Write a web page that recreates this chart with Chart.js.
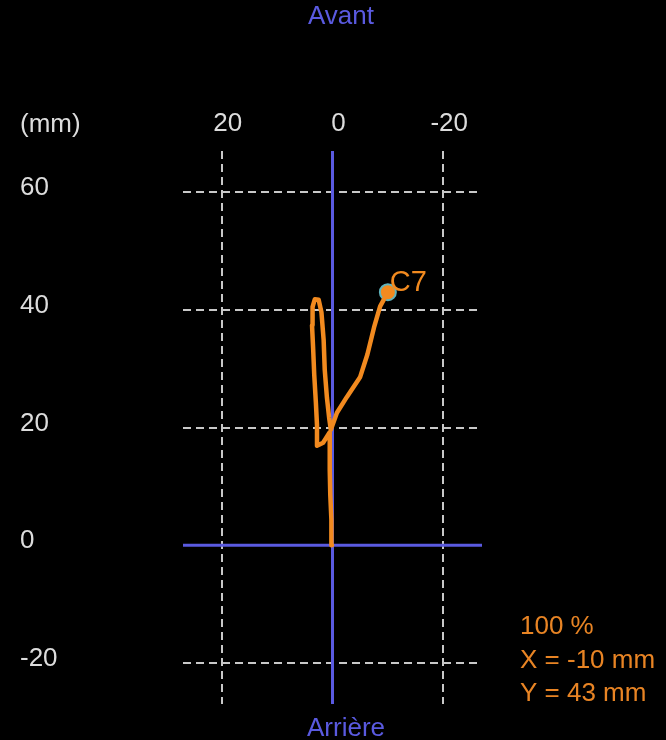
<!DOCTYPE html>
<html>
<head>
<meta charset="utf-8">
<title>Trajectoire C7</title>
<script src="https://cdn.jsdelivr.net/npm/chart.js@4/dist/chart.umd.min.js"></script>
<style>
  html, body { margin: 0; padding: 0; background: #000; }
  canvas { display: block; }
</style>
</head>
<body>
<canvas id="chart" width="666" height="740"></canvas>
<script>
// Trajectory of the C7 marker in the horizontal plane (mm)
const pathX = [0.1, 0.2, 0.4, 0.5, 0.5, 0.5, 1.7, 2.8, 2.8, 3.0, 3.3, 3.5, 3.7, 3.6, 3.2, 2.5, 2.0, 1.6, 1.4, 1.0, 0.6, 0.3, -0.8, -2.6, -5.0, -6.3, -7.5, -8.6, -10];
const pathY = [0.0, 4.3, 8.5, 12.8, 16.2, 19.2, 17.4, 16.9, 20.4, 24.2, 29.0, 33.5, 37.4, 40.5, 41.8, 41.7, 39.6, 34.9, 29.8, 25.0, 21.6, 19.6, 22.5, 25.2, 28.6, 32.4, 37.0, 40.6, 43];

// Current position of the marker
const markerName = 'C7';
const markerX = -10;
const markerY = 43;
const progress = 100;

// Axis ticks
const xTicks = [20, 0, -20];
const yTicks = [60, 40, 20, 0, -20];

const ORANGE = '#F28A1F';
const INFO_ORANGE = '#E88424';
const BLUE = '#5A5AE0';
const GRID = '#C8C8C8';
const TEXT = '#DCDCDC';
const FONT = "'Liberation Sans', Arial, sans-serif";

const pathData = pathX.map((x, i) => ({ x, y: pathY[i] }));

// Solid blue axes through the origin and surrounding captions
const overlay = {
  id: 'overlay',
  beforeDatasetsDraw(chart) {
    const { ctx, chartArea, scales } = chart;
    const x0 = scales.x.getPixelForValue(0);
    const y0 = scales.y.getPixelForValue(0);
    ctx.save();
    ctx.strokeStyle = BLUE;
    ctx.lineWidth = 3;
    ctx.beginPath();
    ctx.moveTo(x0, chartArea.top);
    ctx.lineTo(x0, chartArea.bottom);
    ctx.moveTo(chartArea.left, y0);
    ctx.lineTo(chartArea.right, y0);
    ctx.stroke();
    ctx.restore();
  },
  afterDraw(chart) {
    const { ctx } = chart;
    ctx.save();
    ctx.textBaseline = 'middle';

    ctx.fillStyle = TEXT;
    ctx.font = `26px ${FONT}`;
    ctx.textAlign = 'left';
    ctx.fillText('(mm)', 20, 125);

    ctx.fillStyle = BLUE;
    ctx.textAlign = 'center';
    ctx.fillText('Avant', 341, 17);
    ctx.fillText('Arrière', 346, 729);

    // Name next to the marker
    const pt = chart.getDatasetMeta(1).data[0];
    ctx.fillStyle = ORANGE;
    ctx.font = `29px ${FONT}`;
    ctx.textAlign = 'left';
    ctx.fillText(markerName, pt.x + 2, pt.y - 9);

    // Readout
    ctx.fillStyle = INFO_ORANGE;
    ctx.font = `26px ${FONT}`;
    ctx.fillText(`${progress} %`, 520, 627);
    ctx.fillText(`X = ${markerX} mm`, 520, 661);
    ctx.fillText(`Y = ${markerY} mm`, 520, 694);
    ctx.restore();
  }
};

const gridColor = ctx => (ctx.tick && ctx.tick.value === 0 ? 'rgba(0,0,0,0)' : GRID);

new Chart(document.getElementById('chart'), {
  type: 'scatter',
  data: {
    datasets: [
      {
        data: pathData,
        showLine: true,
        borderColor: ORANGE,
        borderWidth: 4.5,
        pointRadius: 0,
        borderJoinStyle: 'round',
        borderCapStyle: 'round',
        tension: 0
      },
      {
        data: [{ x: markerX, y: markerY }],
        pointRadius: 8,
        pointBackgroundColor: ORANGE,
        pointBorderColor: '#5FB4BE',
        pointBorderWidth: 2
      }
    ]
  },
  options: {
    responsive: false,
    animation: false,
    devicePixelRatio: 1,
    layout: { padding: { left: 20, right: 184, top: 111, bottom: 36 } },
    plugins: { legend: { display: false }, tooltip: { enabled: false }, title: { display: false } },
    scales: {
      x: {
        type: 'linear',
        position: 'top',
        reverse: true,
        min: -27,
        max: 27,
        afterBuildTicks: s => { s.ticks = xTicks.map(v => ({ value: v })); },
        afterFit: s => { s.height = 40; },
        grid: { color: gridColor, lineWidth: 2, drawTicks: false },
        border: { display: false, dash: [8, 5] },
        ticks: { color: TEXT, font: { family: FONT, size: 26 }, padding: 12, maxRotation: 0, labelOffset: 6 }
      },
      y: {
        type: 'linear',
        position: 'left',
        min: -27,
        max: 67,
        afterBuildTicks: s => { s.ticks = yTicks.map(v => ({ value: v })); },
        afterFit: s => { s.width = 163; },
        grid: { color: gridColor, lineWidth: 2, drawTicks: false },
        border: { display: false, dash: [8, 5] },
        ticks: { color: TEXT, font: { family: FONT, size: 26 }, crossAlign: 'far', labelOffset: -4, padding: 0 }
      }
    }
  },
  plugins: [overlay]
});
</script>
</body>
</html>
